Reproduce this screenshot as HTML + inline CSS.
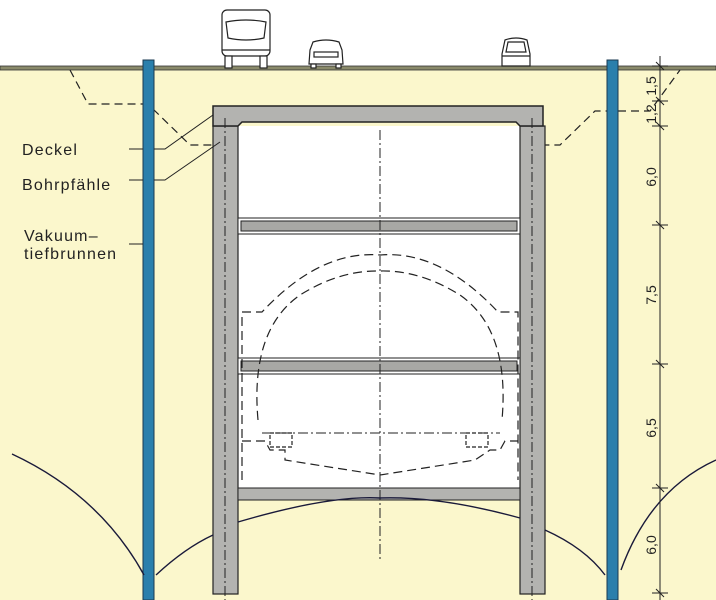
<!DOCTYPE html>
<html><head><meta charset="utf-8"><style>
html,body{margin:0;padding:0;background:#fff;}
svg{display:block;}
text{font-family:"Liberation Sans",sans-serif;fill:#222;}
</style></head><body>
<svg width="716" height="600" viewBox="0 0 716 600" xmlns="http://www.w3.org/2000/svg">
<rect x="0" y="0" width="716" height="68" fill="#ffffff"/>
<rect x="0" y="68" width="716" height="532" fill="#fbf7cc"/>
<rect x="0" y="66" width="716" height="4" fill="#8a8a6a" stroke="#333" stroke-width="0.8"/>

<!-- vehicles -->
<g fill="#fff" stroke="#222" stroke-width="1.2">
<rect x="222" y="10" width="48" height="46" rx="5"/>
<path d="M226 22 Q246 18 266 22 L264 38 Q246 42 228 38 Z"/>
<line x1="222" y1="50" x2="270" y2="50"/>
<rect x="225" y="56" width="7" height="12"/><rect x="260" y="56" width="7" height="12"/>
<path d="M310 50 L313 42 Q326 38 339 42 L342 50 L343 64 L309 64 Z"/>
<rect x="314" y="52" width="24" height="5"/>
<rect x="311" y="64" width="5" height="4"/><rect x="336" y="64" width="5" height="4"/>
<path d="M502 54 L505 40 Q516 36 527 40 L530 54 L530 66 L502 66 Z"/>
<path d="M506 52 L508 42 L524 42 L526 52 Z"/>
<line x1="502" y1="56" x2="530" y2="56"/>
</g>

<!-- drawdown dashed lines -->
<g fill="none" stroke="#222" stroke-width="1.2" stroke-dasharray="8,5">
<path d="M70 70 L88 104 L143 104"/>
<path d="M153 109 L190 145 L560 145 L595 111 L607 111"/>
<path d="M618 111 L650 111 L680 70"/>
</g>

<!-- wells -->
<rect x="143" y="60" width="11" height="540" fill="#2a7fac" stroke="#1a3a50" stroke-width="1"/>
<rect x="607" y="60" width="11" height="540" fill="#2a7fac" stroke="#1a3a50" stroke-width="1"/>

<!-- interior white -->
<rect x="238" y="126" width="282" height="364" fill="#ffffff"/>

<!-- piles -->
<rect x="213" y="126" width="25" height="468" fill="#b3b3b0" stroke="#222" stroke-width="1.2"/>
<rect x="520" y="126" width="25" height="468" fill="#b3b3b0" stroke="#222" stroke-width="1.2"/>
<!-- deckel -->
<path d="M213 106 L543 106 L543 126 L520 126 L516 122 L242 122 L238 126 L213 126 Z" fill="#b3b3b0" stroke="#222" stroke-width="1.5"/>
<!-- struts -->
<rect x="238" y="218" width="282" height="16" fill="#fff" stroke="#222"/>
<rect x="241" y="221" width="276" height="10" fill="#a8a8a5" stroke="#222"/>
<rect x="238" y="358" width="282" height="16" fill="#fff" stroke="#222"/>
<rect x="241" y="361" width="276" height="10" fill="#a8a8a5" stroke="#222"/>
<!-- bottom slab -->
<rect x="238" y="488" width="282" height="12" fill="#b3b3b0" stroke="#222"/>

<!-- pile axes dash-dot -->
<g stroke="#222" stroke-width="1" stroke-dasharray="10,3,2,3" fill="none">
<line x1="225" y1="118" x2="225" y2="600"/>
<line x1="532" y1="118" x2="532" y2="600"/>
<line x1="380" y1="130" x2="380" y2="560"/>
<line x1="262" y1="433" x2="500" y2="433"/>
</g>

<!-- tunnel profile -->
<g fill="none" stroke="#222" stroke-width="1.2" stroke-dasharray="9,5">
<path d="M242 480 L242 312 L262 312 Q320 250 380 255 Q440 250 498 312 L518 312 L518 480"/>
<path d="M258 420 Q250 330 300 295 Q340 270 380 271 Q420 270 460 295 Q510 330 502 420"/>
<path d="M242 441 L265 441 L270 450 L285 450 L285 460 L380 475 L475 460 L490 450 L500 450 L505 441 L518 441"/>
<rect x="270" y="433" width="22" height="14" stroke-dasharray="4,2"/>
<rect x="466" y="433" width="22" height="14" stroke-dasharray="4,2"/>
</g>

<!-- drawdown curves -->
<g fill="none" stroke="#1a1a3a" stroke-width="1.4">
<path d="M12 454 Q100 495 144 575"/>
<path d="M156 575 Q185 548 213 535"/>
<path d="M238 522 Q330 495 380 498 Q440 496 520 518"/>
<path d="M545 530 Q585 548 605 575"/>
<path d="M621 570 Q650 490 716 460"/>
</g>

<!-- leader lines -->
<g stroke="#222" stroke-width="1" fill="none">
<line x1="129" y1="149" x2="143" y2="149"/>
<polyline points="154,149 165,149 213,115"/>
<line x1="129" y1="180" x2="143" y2="180"/>
<polyline points="154,180 165,180 220,142"/>
<line x1="129" y1="244" x2="143" y2="244"/>
</g>
<text x="22" y="155" font-size="16" letter-spacing="1.2">Deckel</text>
<text x="22" y="190" font-size="16" letter-spacing="1.2">Bohrpfähle</text>
<text x="24" y="241" font-size="16" letter-spacing="1.2">Vakuum–</text>
<text x="24" y="259" font-size="16" letter-spacing="1.2">tiefbrunnen</text>

<!-- dimension line -->
<g stroke="#222" stroke-width="1">
<line x1="660" y1="56" x2="660" y2="600"/>
<g>
<line x1="652" y1="66" x2="668" y2="66"/><line x1="656" y1="62" x2="664" y2="70"/>
<line x1="652" y1="101" x2="668" y2="101"/><line x1="656" y1="97" x2="664" y2="105"/>
<line x1="652" y1="126" x2="668" y2="126"/><line x1="656" y1="122" x2="664" y2="130"/>
<line x1="652" y1="225" x2="668" y2="225"/><line x1="656" y1="221" x2="664" y2="229"/>
<line x1="652" y1="364" x2="668" y2="364"/><line x1="656" y1="360" x2="664" y2="368"/>
<line x1="652" y1="488" x2="668" y2="488"/><line x1="656" y1="484" x2="664" y2="492"/>
<line x1="652" y1="593" x2="668" y2="593"/><line x1="656" y1="589" x2="664" y2="597"/>
</g>
</g>
<g font-size="14">
<text transform="translate(656,86) rotate(-90)" text-anchor="middle">1,5</text>
<text transform="translate(656,114) rotate(-90)" text-anchor="middle">1,2</text>
<text transform="translate(656,177) rotate(-90)" text-anchor="middle">6,0</text>
<text transform="translate(656,295) rotate(-90)" text-anchor="middle">7,5</text>
<text transform="translate(656,428) rotate(-90)" text-anchor="middle">6,5</text>
<text transform="translate(656,545) rotate(-90)" text-anchor="middle">6,0</text>
</g>
</svg>
</body></html>
